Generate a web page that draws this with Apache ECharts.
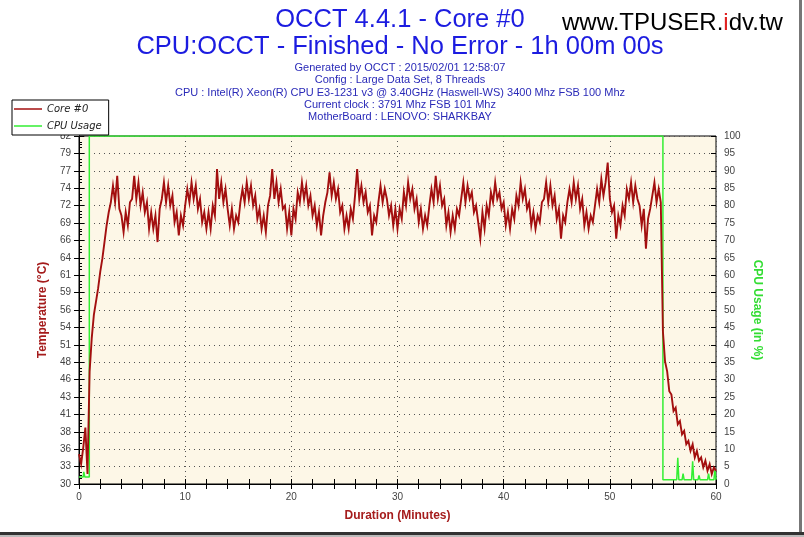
<!DOCTYPE html>
<html>
<head>
<meta charset="utf-8">
<title>OCCT 4.4.1 - Core #0</title>
<script src="https://cdn.jsdelivr.net/npm/echarts@6/dist/echarts.min.js"></script>
<style>
  html, body { margin: 0; padding: 0; background: #fff; }
  #main { width: 804px; height: 537px; }
</style>
</head>
<body>
<div id="main"></div>
<script>
// one temperature sample every 0.2 minute
var SAMPLE_STEP = 0.2;

// 0 - 2.8 min : idle then warm up
var tempWarmup = [
  34.5, 33, 35.5, 38.5, 31.5,
  47, 52, 55.5, 57.5, 59.5,
  62, 64, 66.5, 69, 71
];
// 3 - 54.8 min : full load (5 samples per minute)
var tempLoad = [
  72.5, 75, 72.5, 76.5, 71.5,   70.5, 68, 71, 69, 72.5,     73, 76.5, 73, 75.5, 72,
  74, 71, 72.5, 68.5, 71,       68.5, 70.5, 66.5, 71.5, 73, 75.5, 72.5, 75, 72, 73.5,
  69.5, 71, 67.5, 70.5, 69,     72, 74.5, 72.5, 75.5, 73,   75, 71.5, 73, 69.5, 71,
  68.5, 71, 68.5, 72, 70.5,     77.5, 73, 75.5, 72.5, 74.5, 71.5, 69, 71.5, 68.5, 70.5,
  69.5, 72.5, 74.5, 72.5, 75.5, 73, 75, 72, 73.5, 70,       71.5, 68.5, 70.5, 68, 72,
  73.5, 77.5, 73, 75.5, 72.5,   74.5, 71.5, 72, 68.5, 71,   67.5, 71.5, 70, 74, 72.5,
  75.5, 73, 75, 72, 73.5,       70.5, 72, 69, 71, 67.5,     70.5, 72.5, 74, 77, 73.5,
  75.5, 73, 74.5, 71, 72,       68.5, 70.5, 68.5, 71.5, 70, 73.5, 77.5, 73, 75, 72.5,
  74, 71, 72, 67.5, 70.5,       69.5, 72.5, 75, 72.5, 74.5, 73, 70.5, 72, 69, 71.5,
  68.5, 71.5, 70, 74, 72,       75.5, 73, 74.5, 71.5, 73,   69.5, 71.5, 68.5, 70.5, 69,
  72, 74.5, 72.5, 76.5, 73,     75, 72, 73, 69, 71,         68, 70.5, 68.5, 71.5, 70.5,
  73, 75.5, 72.5, 75, 73,       74, 71, 72, 69.5, 67,       71, 68.5, 72, 70.5, 74,
  72.5, 75.5, 73, 74, 71.5,     72.5, 69, 71, 68.5, 71.5,   70, 73.5, 72, 75.5, 73,
  74.5, 71.5, 72.5, 69, 71,     68.5, 70.5, 69.5, 72.5, 73, 75.5, 72.5, 75, 72, 73.5,
  70, 71.5, 67, 70.5, 69.5,     72.5, 74.5, 72.5, 75.5, 73, 75, 71.5, 73, 69, 71,
  68.5, 70.5, 69.5, 72, 74.5,   72.5, 76, 73.5, 75.5, 78.5, 73, 71, 72, 67, 70.5,
  69, 72, 70.5, 74.5, 73,       75.5, 72.5, 75, 73, 72,     69, 71.5, 65.5, 70, 71.5,
  73.5, 75.5, 72.5, 74.5, 72.5
];
// 55 - 60 min : cool down
var tempCooldown = [
  53, 48.5, 47, 44, 43.5,
  41, 41.5, 39, 39.5, 37.5,
  38, 36, 36.5, 35, 36,
  34, 35, 33.5, 34, 32.5,
  33.5, 32, 33, 31.5, 32.5,
  32
];

// CPU usage (%) as break points
var cpuMinutes = [0, 0.4, 0.45, 0.55, 0.97, 0.97, 55.0, 55.0, 56.3, 56.4, 56.5, 56.8, 56.9, 57.0,
                  57.7, 57.8, 57.9, 58.3, 58.4, 58.5, 59.2, 59.3, 59.4, 59.8, 59.9, 60];
var cpuValues  = [2, 2, 3.5, 2, 2, 100, 100, 1.2, 1.2, 7.5, 1.2, 1.2, 3, 1.2,
                  1.2, 6.5, 1.2, 1.2, 2.5, 1.2, 1.2, 3, 1.2, 1.2, 4, 1.2];

var tempTickLabels = ['30', '33', '36', '38', '41', '43', '46', '48', '51', '54', '56',
                      '59', '61', '64', '66', '69', '72', '74', '77', '79', '82'];
var TEMP_MIN = 30, TEMP_MAX = 82.5;
var tempStep = (TEMP_MAX - TEMP_MIN) / (tempTickLabels.length - 1);
var tempTickValues = tempTickLabels.map(function (l, i) { return TEMP_MIN + i * tempStep; });

var tempValues = tempWarmup.concat(tempLoad, tempCooldown);
var tempData = tempValues.map(function (v, i) { return [+(i * SAMPLE_STEP).toFixed(2), v]; });
var cpuData = cpuMinutes.map(function (m, i) { return [m, cpuValues[i]]; });

var infoLines = [
  'Generated by OCCT : 2015/02/01 12:58:07',
  'Config : Large Data Set, 8 Threads',
  'CPU : Intel(R) Xeon(R) CPU E3-1231 v3 @ 3.40GHz (Haswell-WS) 3400 Mhz FSB 100 Mhz',
  'Current clock : 3791 Mhz FSB 101 Mhz',
  'MotherBoard : LENOVO: SHARKBAY'
];

var myChart = echarts.init(document.getElementById('main'));

var graphics = [
  { type: 'text', x: 400, y: 20, style: { text: 'OCCT 4.4.1 - Core #0',
      textAlign: 'center', textVerticalAlign: 'middle', fill: '#1c1ce0',
      font: '25.5px "Liberation Sans", Arial, sans-serif' } },
  { type: 'text', x: 400, y: 47, style: { text: 'CPU:OCCT - Finished - No Error - 1h 00m 00s',
      textAlign: 'center', textVerticalAlign: 'middle', fill: '#1c1ce0',
      font: '25.5px "Liberation Sans", Arial, sans-serif' } },
  { type: 'text', x: 562, y: 23, style: {
      text: '{a|www.TPUSER.}{r|i}{a|dv.tw}', textVerticalAlign: 'middle',
      rich: {
        a: { fill: '#000', fontSize: 24, fontFamily: '"Liberation Sans", Arial, sans-serif' },
        r: { fill: '#e02020', fontSize: 24, fontFamily: '"Liberation Sans", Arial, sans-serif' }
      } } },
  // picture frame shadow
  { type: 'rect', shape: { x: 799, y: 0, width: 3, height: 537 }, style: { fill: '#777' }, z: 20 },
  { type: 'rect', shape: { x: 0, y: 532, width: 804, height: 3 }, style: { fill: '#333' }, z: 20 },
  { type: 'rect', shape: { x: 0, y: 535, width: 804, height: 2 }, style: { fill: '#bbb' }, z: 20 }
];
infoLines.forEach(function (t, i) {
  graphics.push({ type: 'text', x: 400, y: 68 + i * 12.3, style: { text: t,
      textAlign: 'center', textVerticalAlign: 'middle', fill: '#2a2ab8',
      font: '11px "Liberation Sans", Arial, sans-serif' } });
});

var labelFont = { color: '#444', fontSize: 10, fontFamily: '"Liberation Sans", Arial, sans-serif' };
var blackLine = { color: '#000', width: 1 };
var dotted = { show: true, lineStyle: { color: '#555', type: [1, 4], width: 1 } };

var option = {
  animation: false,
  backgroundColor: '#fff',
  graphic: graphics,
  legend: {
    orient: 'vertical', left: 12, top: 100, z: 10,
    backgroundColor: '#fff', borderColor: '#000', borderWidth: 1, borderRadius: 0,
    padding: [3, 7, 3, 2], itemGap: 5, itemWidth: 28, itemHeight: 1.5, icon: 'rect',
    textStyle: { color: '#222', fontSize: 10, lineHeight: 12, fontStyle: 'italic',
                 fontFamily: '"DejaVu Sans", Verdana, sans-serif' },
    data: ['Core #0', 'CPU Usage']
  },
  grid: { left: 79, right: 88, top: 136, bottom: 53, show: true,
          backgroundColor: '#fdf7e7', borderColor: '#000', borderWidth: 1 },
  xAxis: [{
    type: 'value', min: 0, max: 60, interval: 10, position: 'bottom',
    name: 'Duration (Minutes)', nameLocation: 'middle', nameGap: 26,
    nameTextStyle: { color: '#a51c1c', fontWeight: 'bold', fontSize: 12, fontFamily: '"Liberation Sans", Arial, sans-serif' },
    axisLine: { lineStyle: blackLine },
    axisTick: { length: 5, lineStyle: blackLine },
    minorTick: { show: true, splitNumber: 5, length: 5, lineStyle: blackLine },
    axisLabel: Object.assign({ margin: 8 }, labelFont),
    splitLine: dotted
  }, {
    type: 'value', min: 0, max: 60, interval: 2, position: 'bottom', offset: 0,
    axisLine: { show: false },
    axisTick: { inside: true, length: 5, lineStyle: blackLine },
    axisLabel: { show: false }, splitLine: { show: false }
  }],
  yAxis: [{
    type: 'value', min: TEMP_MIN, max: TEMP_MAX, position: 'left', offset: 0,
    name: 'Temperature (°C)', nameLocation: 'middle', nameGap: 25,
    nameTextStyle: { color: '#a51c1c', fontWeight: 'bold', fontSize: 12, fontFamily: '"Liberation Sans", Arial, sans-serif' },
    axisLine: { show: true, lineStyle: blackLine },
    axisTick: { show: true, length: 5, customValues: tempTickValues, lineStyle: blackLine },
    axisLabel: Object.assign({
      margin: 8, customValues: tempTickValues,
      formatter: function (v) { return tempTickLabels[Math.round((v - TEMP_MIN) / tempStep)]; }
    }, labelFont),
    splitLine: { show: false }
  }, {
    type: 'value', min: 0, max: 100, interval: 5, position: 'right', offset: 0,
    name: 'CPU Usage (in %)', nameLocation: 'middle', nameGap: 33, nameRotate: -90,
    nameTextStyle: { color: '#33dd33', fontWeight: 'bold', fontSize: 12, fontFamily: '"Liberation Sans", Arial, sans-serif' },
    axisLine: { show: true, lineStyle: blackLine },
    axisTick: { show: true, length: 5, lineStyle: blackLine },
    minorTick: { show: true, splitNumber: 2, length: 3, lineStyle: blackLine },
    axisLabel: Object.assign({ margin: 8 }, labelFont),
    splitLine: dotted
  }, {
    type: 'value', min: 0, max: 100, interval: 5, position: 'left', offset: 0,
    axisLine: { show: false },
    axisTick: { show: true, inside: true, length: 5, lineStyle: blackLine },
    minorTick: { show: true, splitNumber: 3, length: 3, lineStyle: blackLine },
    axisLabel: { show: false }, splitLine: { show: false }
  }, {
    type: 'value', min: 0, max: 100, interval: 5, position: 'right', offset: 0,
    axisLine: { show: false },
    axisTick: { show: true, inside: true, length: 5, lineStyle: blackLine },
    axisLabel: { show: false }, splitLine: { show: false }
  }],
  series: [{
    name: 'CPU Usage', type: 'line', xAxisIndex: 0, yAxisIndex: 1,
    symbol: 'none', data: cpuData,
    itemStyle: { color: '#33ee33' },
    lineStyle: { color: '#33ee33', width: 1.5 }
  }, {
    name: 'Core #0', type: 'line', xAxisIndex: 0, yAxisIndex: 0,
    symbol: 'none', data: tempData,
    itemStyle: { color: '#a30f0f' },
    lineStyle: { color: '#a30f0f', width: 1.9, join: 'miter' }
  }]
};
myChart.setOption(option);
</script>
</body>
</html>
